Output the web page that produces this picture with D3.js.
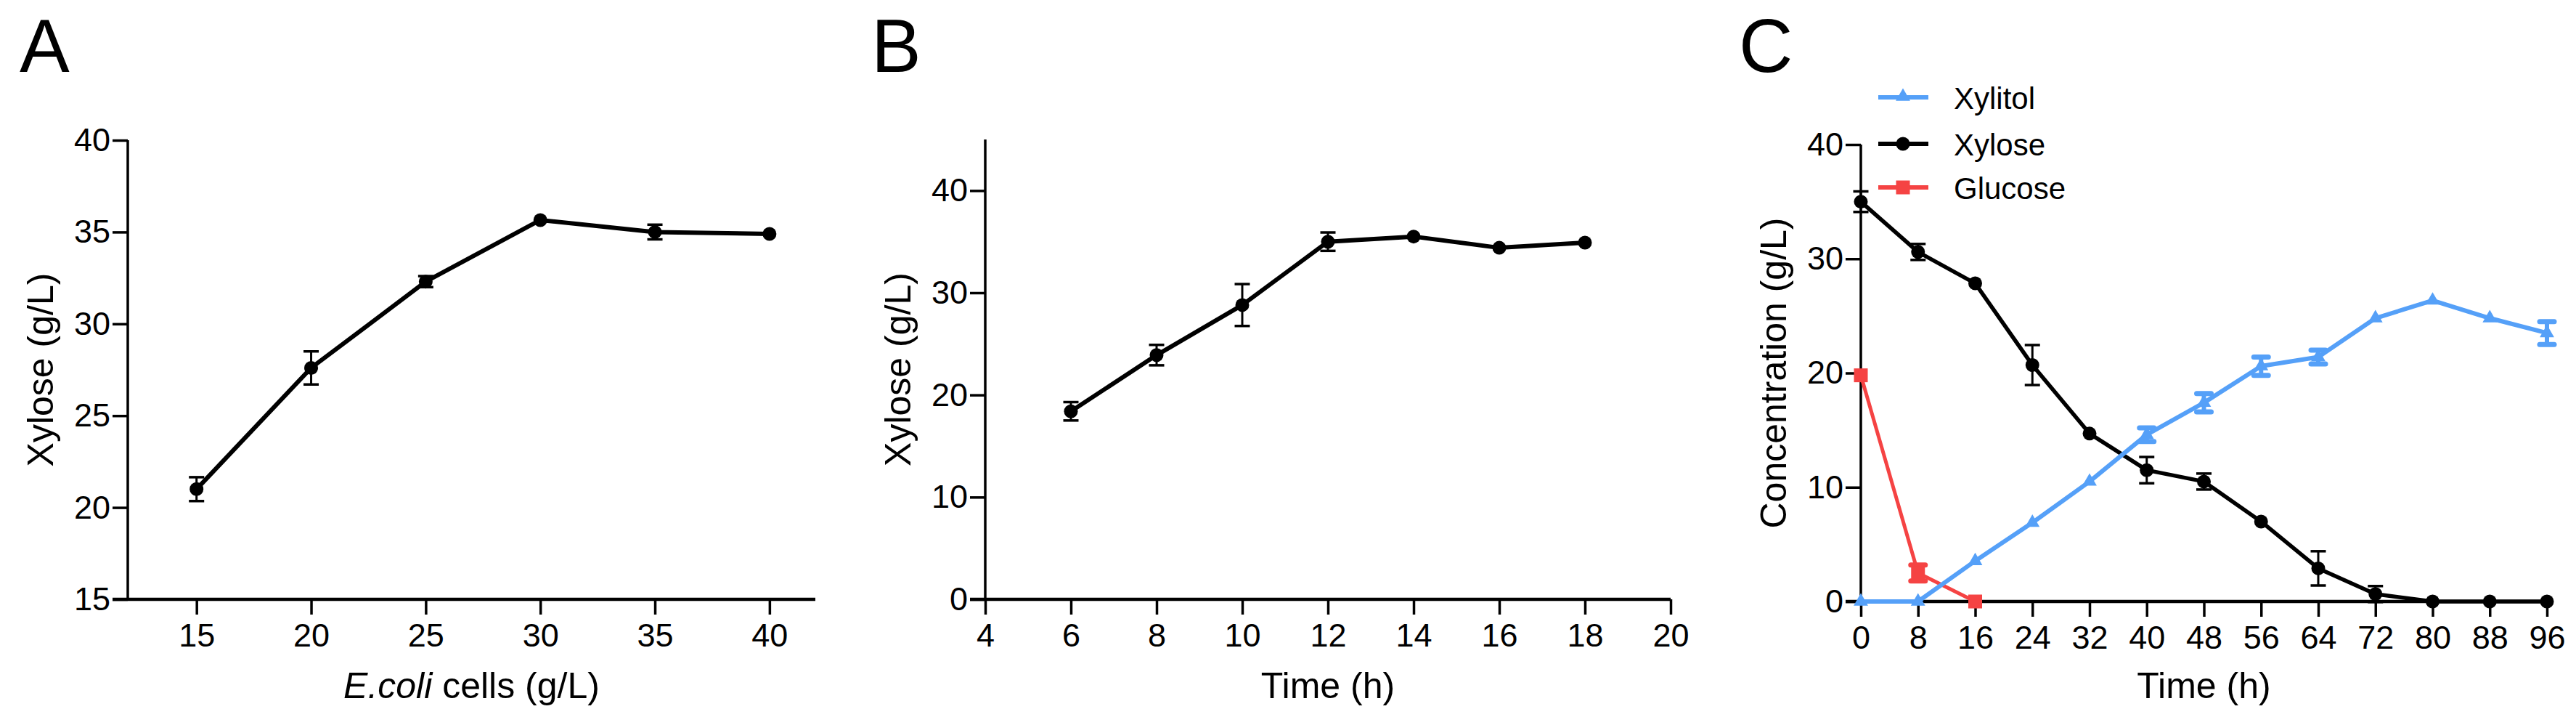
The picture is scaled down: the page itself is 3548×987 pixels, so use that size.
<!DOCTYPE html>
<html>
<head>
<meta charset="utf-8">
<script src="https://cdn.jsdelivr.net/npm/d3@7"></script>
<style>
  html, body { margin: 0; padding: 0; background: #fff; }
  svg { display: block; }
  text { font-family: "Liberation Sans", Arial, Helvetica, sans-serif; fill: #000; }
</style>
</head>
<body>
<svg id="chart" width="3548" height="987"></svg>
<script>
// ---------------- DATA ----------------
// Panel A
const cellsA = [15, 20, 25, 30, 35, 40];
const xyloseA = [21.0, 27.6, 32.3, 35.65, 35.0, 34.9];
const xyloseAErr = [0.65, 0.9, 0.3, 0, 0.4, 0];
const xTicksA = [15, 20, 25, 30, 35, 40];
const yTicksA = [15, 20, 25, 30, 35, 40];

// Panel B
const timeB = [6, 8, 10, 12, 14, 16, 18];
const xyloseB = [18.4, 23.9, 28.8, 35.0, 35.5, 34.4, 34.9];
const xyloseBErr = [0.9, 1.0, 2.05, 0.9, 0, 0, 0];
const xTicksB = [4, 6, 8, 10, 12, 14, 16, 18, 20];
const yTicksB = [0, 10, 20, 30, 40];

// Panel C
const timeC = [0, 8, 16, 24, 32, 40, 48, 56, 64, 72, 80, 88, 96];
const xylitolC = [0, 0, 3.55, 6.9, 10.5, 14.6, 17.4, 20.6, 21.4, 24.8, 26.35, 24.8, 23.5];
const xylitolCErr = [0, 0, 0, 0, 0, 0.6, 0.8, 0.8, 0.6, 0, 0, 0, 1.0];
const xyloseC = [35.0, 30.6, 27.85, 20.7, 14.7, 11.5, 10.5, 7.0, 2.9, 0.65, 0, 0, 0];
const xyloseCErr = [0.9, 0.7, 0, 1.75, 0, 1.15, 0.7, 0, 1.5, 0.7, 0, 0, 0];
const glucoseTime = [0, 8, 16];
const glucoseC = [19.8, 2.5, 0];
const glucoseCErr = [0, 0.7, 0];
const xTicksC = [0, 8, 16, 24, 32, 40, 48, 56, 64, 72, 80, 88, 96];
const yTicksC = [0, 10, 20, 30, 40];

const seriesNames = ["Xylitol", "Xylose", "Glucose"];

// ---------------- STYLE ----------------
const BLUE = "#55A0F8";
const RED = "#F54343";
const BLACK = "#000";
const FONT_TICK = 45;
const FONT_TITLE = 50;
const FONT_LETTER = 103;

const svg = d3.select("#chart");

function drawAxes(g, x, y, xTicks, yTicks, xTitle, yTitle, xTitleItalicPart) {
  const [x0, x1] = x.range();
  const [yb, yt] = y.range();
  // y axis
  const yAxis = d3.axisLeft(y).tickValues(yTicks).tickSize(21).tickPadding(3).tickFormat(d3.format("d"));
  const ga = g.append("g").attr("transform", `translate(${x0},0)`).call(yAxis);
  ga.select(".domain").remove();
  ga.selectAll(".tick line").attr("stroke", BLACK).attr("stroke-width", 3.5);
  ga.selectAll(".tick text").attr("font-size", FONT_TICK).attr("font-family", "Liberation Sans, Arial").attr("fill", BLACK);
  g.append("line").attr("x1", x0).attr("x2", x0).attr("y1", yt).attr("y2", yb + 2)
    .attr("stroke", BLACK).attr("stroke-width", 3.5);
  // x axis
  const xAxis = d3.axisBottom(x).tickValues(xTicks).tickSize(21).tickPadding(12).tickFormat(d3.format("d"));
  const gx = g.append("g").attr("transform", `translate(0,${yb})`).call(xAxis);
  gx.select(".domain").remove();
  gx.selectAll(".tick line").attr("stroke", BLACK).attr("stroke-width", 3.5);
  gx.selectAll(".tick text").attr("font-size", FONT_TICK).attr("font-family", "Liberation Sans, Arial").attr("fill", BLACK);
  g.append("line").attr("x1", x0 - 21).attr("x2", x1).attr("y1", yb).attr("y2", yb)
    .attr("stroke", BLACK).attr("stroke-width", 4.5);
  // x title
  const t = g.append("text").attr("x", (x0 + x1) / 2).attr("y", 961)
    .attr("text-anchor", "middle").attr("font-size", FONT_TITLE);
  if (xTitleItalicPart) {
    t.append("tspan").attr("font-style", "italic").text(xTitleItalicPart);
    t.append("tspan").text(xTitle);
  } else {
    t.text(xTitle);
  }
  // y title
  g.append("text")
    .attr("transform", `translate(${x0 - 103},${(yb + yt) / 2}) rotate(-90)`)
    .attr("text-anchor", "middle").attr("font-size", FONT_TITLE).text(yTitle);
}

function drawErr(g, x, y, xs, ys, es, color, capW, sw, capSw, round) {
  xs.forEach((xv, i) => {
    const e = es[i];
    if (!e) return;
    const cx = x(xv), y1 = y(ys[i] + e), y2 = y(ys[i] - e);
    g.append("line").attr("x1", cx).attr("x2", cx).attr("y1", y1).attr("y2", y2)
      .attr("stroke", color).attr("stroke-width", sw);
    [y1, y2].forEach(yy => {
      g.append("line").attr("x1", cx - capW / 2).attr("x2", cx + capW / 2).attr("y1", yy).attr("y2", yy)
        .attr("stroke", color).attr("stroke-width", capSw).attr("stroke-linecap", round ? "round" : "butt");
    });
  });
}

function drawLine(g, x, y, xs, ys, color, sw) {
  const line = d3.line().x(d => x(d[0])).y(d => y(d[1]));
  g.append("path").datum(xs.map((v, i) => [v, ys[i]]))
    .attr("d", line).attr("fill", "none").attr("stroke", color)
    .attr("stroke-width", sw).attr("stroke-linejoin", "round");
}

function drawCircles(g, x, y, xs, ys, color, r) {
  g.selectAll(null).data(xs.map((v, i) => [v, ys[i]])).enter().append("circle")
    .attr("cx", d => x(d[0])).attr("cy", d => y(d[1])).attr("r", r).attr("fill", color);
}
function drawSquares(g, x, y, xs, ys, color, s) {
  g.selectAll(null).data(xs.map((v, i) => [v, ys[i]])).enter().append("rect")
    .attr("x", d => x(d[0]) - s / 2).attr("y", d => y(d[1]) - s / 2)
    .attr("width", s).attr("height", s).attr("fill", color);
}
const triSym = d3.symbol().type(d3.symbolTriangle).size(170);
function drawTriangles(g, x, y, xs, ys, color) {
  g.selectAll(null).data(xs.map((v, i) => [v, ys[i]])).enter().append("path")
    .attr("d", triSym).attr("transform", d => `translate(${x(d[0])},${y(d[1])})`).attr("fill", color);
}

function panelLetter(x, letter) {
  svg.append("text").attr("x", x).attr("y", 99).attr("font-size", FONT_LETTER).text(letter);
}

// ---------------- PANEL A ----------------
{
  const g = svg.append("g");
  const x = d3.scaleLinear().domain([12, 42]).range([176, 1123]);
  const y = d3.scaleLinear().domain([15, 40]).range([825, 193]);
  drawAxes(g, x, y, xTicksA, yTicksA, " cells (g/L)", "Xylose (g/L)", "E.coli");
  drawErr(g, x, y, cellsA, xyloseA, xyloseAErr, BLACK, 21, 3, 3.5, false);
  drawLine(g, x, y, cellsA, xyloseA, BLACK, 6);
  drawCircles(g, x, y, cellsA, xyloseA, BLACK, 9.5);
  panelLetter(27, "A");
}

// ---------------- PANEL B ----------------
{
  const g = svg.append("g");
  const x = d3.scaleLinear().domain([4, 20]).range([1357, 2301]);
  const y = d3.scaleLinear().domain([0, 45]).range([825, 192]);
  drawAxes(g, x, y, xTicksB, yTicksB, "Time (h)", "Xylose (g/L)");
  drawErr(g, x, y, timeB, xyloseB, xyloseBErr, BLACK, 21, 3, 3.5, false);
  drawLine(g, x, y, timeB, xyloseB, BLACK, 6);
  drawCircles(g, x, y, timeB, xyloseB, BLACK, 9.5);
  panelLetter(1200, "B");
}

// ---------------- PANEL C ----------------
{
  const g = svg.append("g");
  const x = d3.scaleLinear().domain([0, 96]).range([2563, 3508]);
  const y = d3.scaleLinear().domain([0, 40]).range([828, 199]);
  drawAxes(g, x, y, xTicksC, yTicksC, "Time (h)", "Concentration (g/L)");
  // Glucose
  drawErr(g, x, y, glucoseTime, glucoseC, glucoseCErr, RED, 20, 6, 7, true);
  drawLine(g, x, y, glucoseTime, glucoseC, RED, 5);
  drawSquares(g, x, y, glucoseTime, glucoseC, RED, 19);
  // Xylose
  drawErr(g, x, y, timeC, xyloseC, xyloseCErr, BLACK, 21, 3, 3.5, false);
  drawLine(g, x, y, timeC, xyloseC, BLACK, 5.5);
  drawCircles(g, x, y, timeC, xyloseC, BLACK, 9.5);
  // Xylitol
  drawErr(g, x, y, timeC, xylitolC, xylitolCErr, BLUE, 20, 6, 7, true);
  drawLine(g, x, y, timeC, xylitolC, BLUE, 6);
  drawTriangles(g, x, y, timeC, xylitolC, BLUE);

  // Legend
  const legY = [134, 198, 258];
  const legColors = [BLUE, BLACK, RED];
  seriesNames.forEach((name, i) => {
    const ly = legY[i];
    g.append("line").attr("x1", 2587).attr("x2", 2656).attr("y1", ly).attr("y2", ly)
      .attr("stroke", legColors[i]).attr("stroke-width", 6);
    if (i === 0) {
      g.append("path").attr("d", triSym).attr("transform", `translate(2621,${ly - 1})`).attr("fill", BLUE);
    } else if (i === 1) {
      g.append("circle").attr("cx", 2621).attr("cy", ly).attr("r", 9.5).attr("fill", BLACK);
    } else {
      g.append("rect").attr("x", 2611.5).attr("y", ly - 9.5).attr("width", 19).attr("height", 19).attr("fill", RED);
    }
    g.append("text").attr("x", 2691).attr("y", ly + 16).attr("font-size", 42).text(name);
  });
  panelLetter(2395, "C");
}
</script>
</body>
</html>
